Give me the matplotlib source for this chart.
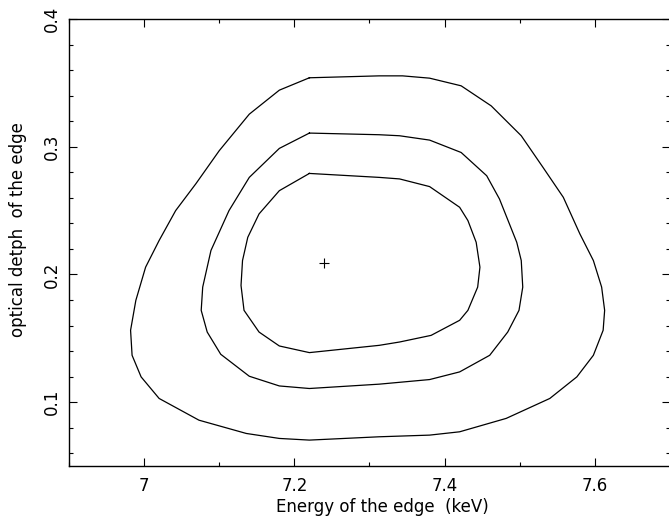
import matplotlib
matplotlib.use("Agg")
import matplotlib.pyplot as plt
from matplotlib.ticker import MultipleLocator

# confidence contours (energy in keV, optical depth)
outer_x = [7.22, 7.313, 7.344, 7.38, 7.422, 7.462, 7.502, 7.531, 7.558, 7.58, 7.598,
           7.609, 7.613, 7.611, 7.598, 7.576, 7.54, 7.482, 7.42, 7.38, 7.313,
           7.22, 7.18, 7.136, 7.073, 7.02, 6.996, 6.984, 6.982, 6.989, 7.002,
           7.02, 7.042, 7.069, 7.10, 7.14, 7.18, 7.22]
outer_y = [0.354, 0.3555, 0.3555, 0.3537, 0.3477, 0.332, 0.3086, 0.2838, 0.2604, 0.2318, 0.2109,
           0.1901, 0.1719, 0.1563, 0.1367, 0.1198, 0.1029, 0.0873, 0.0768, 0.0742, 0.0729,
           0.0703, 0.0716, 0.0755, 0.0859, 0.1029, 0.1198, 0.1367, 0.1563, 0.1797, 0.2057,
           0.2266, 0.25, 0.2711, 0.2969, 0.3255, 0.3443, 0.354]

middle_x = [7.22, 7.313, 7.34, 7.38, 7.422, 7.456, 7.473, 7.496, 7.502, 7.504,
            7.499, 7.484, 7.46, 7.42, 7.38, 7.313, 7.22, 7.18, 7.14, 7.102,
            7.084, 7.076, 7.078, 7.089, 7.113, 7.14, 7.18, 7.22]
middle_y = [0.3107, 0.3094, 0.3086, 0.3052, 0.2955, 0.2773, 0.2591, 0.2252, 0.2109, 0.1901,
            0.1719, 0.1549, 0.1367, 0.1237, 0.1177, 0.1141, 0.1107, 0.1127, 0.1203, 0.1375,
            0.1549, 0.1719, 0.1901, 0.2188, 0.25, 0.276, 0.2987, 0.3107]

inner_x = [7.22, 7.313, 7.34, 7.38, 7.42, 7.431, 7.442, 7.447, 7.444, 7.431,
           7.42, 7.382, 7.34, 7.313, 7.22, 7.18, 7.153, 7.133, 7.129, 7.131,
           7.138, 7.153, 7.18, 7.22]
inner_y = [0.2791, 0.276, 0.2748, 0.2688, 0.2526, 0.2422, 0.2252, 0.2057, 0.1901, 0.1719,
           0.1641, 0.1523, 0.1471, 0.1445, 0.1388, 0.144, 0.1549, 0.1719, 0.1914, 0.2109,
           0.2291, 0.2474, 0.2656, 0.2791]

# best fit
best_x = [7.24]
best_y = [0.2086]

plt.rcParams["font.family"] = ["DejaVu Sans"]
plt.rcParams["font.size"] = 12

fig = plt.figure(figsize=(6.69, 5.17), dpi=100)
ax = fig.add_axes([0.1031, 0.0986, 0.8984, 0.8646])

for xs, ys in [(outer_x, outer_y), (middle_x, middle_y), (inner_x, inner_y)]:
    ax.plot(xs, ys, color="black", linewidth=0.9)

ax.plot(best_x, best_y, marker="+", color="black", markersize=7,
        markeredgewidth=0.8, linestyle="none")

ax.set_xlim(6.9, 7.7)
ax.set_ylim(0.05, 0.4)

ax.xaxis.set_minor_locator(MultipleLocator(0.1))
ax.yaxis.set_minor_locator(MultipleLocator(0.02))
ax.set_xticks([7.0, 7.2, 7.4, 7.6])
ax.set_xticklabels(["7", "7.2", "7.4", "7.6"])
ax.set_yticks([0.1, 0.2, 0.3, 0.4])
ax.set_yticklabels(["0.1", "0.2", "0.3", "0.4"], rotation=90, va="center")

ax.tick_params(which="both", direction="in", top=True, right=True, width=0.8)
ax.tick_params(which="major", length=6)
ax.tick_params(which="minor", length=3)
ax.tick_params(axis="x", pad=8)
ax.tick_params(axis="y", pad=6)
for sp in ax.spines.values():
    sp.set_linewidth(1.0)

ax.set_xlabel("Energy of the edge  (keV)")
ax.set_ylabel("optical detph  of the edge")
# labels sit a little off the axes centre in the original
ax.xaxis.set_label_coords(0.5216, -0.072)
ax.yaxis.set_label_coords(-0.07, 0.53)

fig.savefig("out.png", dpi=100)
